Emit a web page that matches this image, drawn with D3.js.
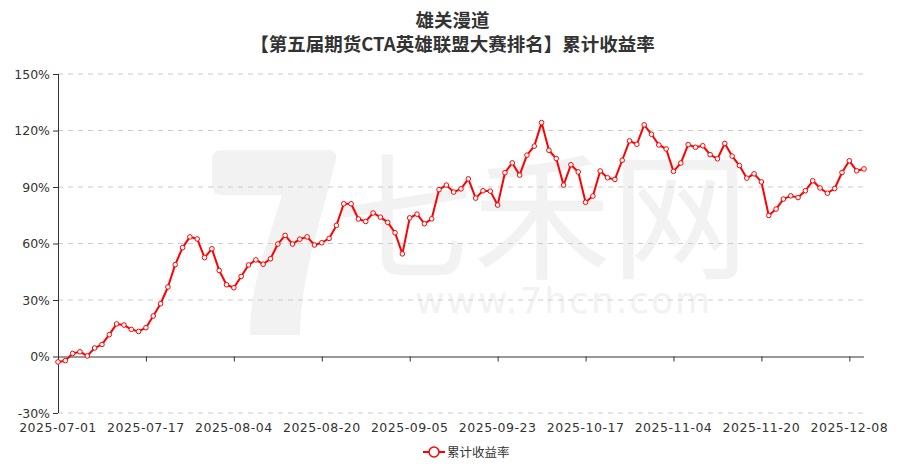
<!DOCTYPE html>
<html><head><meta charset="utf-8">
<script src="https://cdn.jsdelivr.net/npm/d3@7"></script>
<style>html,body{margin:0;padding:0;background:#fff;}svg{display:block;}</style>
</head><body>
<svg id="chart" width="905" height="470"></svg>
<script>
const titleLines = ["雄关漫道", "【第五届期货CTA英雄联盟大赛排名】累计收益率"];
const seriesName = "累计收益率";
const dates = [
"2025-07-01","2025-07-02","2025-07-03","2025-07-04","2025-07-07","2025-07-08","2025-07-09","2025-07-10","2025-07-11","2025-07-14","2025-07-15","2025-07-16","2025-07-17","2025-07-18","2025-07-21","2025-07-22","2025-07-23","2025-07-24","2025-07-25","2025-07-28","2025-07-29","2025-07-30","2025-07-31",
"2025-08-01","2025-08-04","2025-08-05","2025-08-06","2025-08-07","2025-08-08","2025-08-11","2025-08-12","2025-08-13","2025-08-14","2025-08-15","2025-08-18","2025-08-19","2025-08-20","2025-08-21","2025-08-22","2025-08-25","2025-08-26","2025-08-27","2025-08-28","2025-08-29",
"2025-09-01","2025-09-02","2025-09-03","2025-09-04","2025-09-05","2025-09-08","2025-09-09","2025-09-10","2025-09-11","2025-09-12","2025-09-15","2025-09-16","2025-09-17","2025-09-18","2025-09-19","2025-09-22","2025-09-23","2025-09-24","2025-09-25","2025-09-26","2025-09-29","2025-09-30",
"2025-10-09","2025-10-10","2025-10-13","2025-10-14","2025-10-15","2025-10-16","2025-10-17","2025-10-20","2025-10-21","2025-10-22","2025-10-23","2025-10-24","2025-10-27","2025-10-28","2025-10-29","2025-10-30","2025-10-31",
"2025-11-03","2025-11-04","2025-11-05","2025-11-06","2025-11-07","2025-11-10","2025-11-11","2025-11-12","2025-11-13","2025-11-14","2025-11-17","2025-11-18","2025-11-19","2025-11-20","2025-11-21","2025-11-24","2025-11-25","2025-11-26","2025-11-27","2025-11-28",
"2025-12-01","2025-12-02","2025-12-03","2025-12-04","2025-12-05","2025-12-08","2025-12-09","2025-12-10"
];
const values = [
-2.9,-2.2,1.6,2.5,0.3,4.5,6.4,11.6,17.3,16.7,14.4,13.3,15.3,21.5,28.0,36.9,48.8,57.8,63.5,62.4,52.5,57.2,45.7,
38.1,36.5,42.5,48.6,51.3,49.0,51.9,59.7,64.3,59.7,62.3,63.5,59.2,60.4,62.7,69.6,81.1,81.1,73.0,71.7,76.2,
74.0,71.2,65.7,54.5,73.6,75.6,70.5,73.1,88.6,91.0,87.3,89.0,94.3,84.1,88.0,87.8,80.4,97.6,102.8,96.3,106.9,111.7,
124.2,109.5,105.1,91.0,101.8,98.0,81.9,85.2,98.5,94.9,94.0,104.2,114.5,112.7,123.0,118.0,112.3,
110.2,98.3,102.7,112.5,111.1,111.9,107.2,105.0,113.1,106.4,101.4,94.7,97.0,92.7,74.9,78.3,83.6,85.3,84.4,88.0,
93.3,89.5,86.7,89.2,97.7,103.9,98.6,99.6
];
const yTicks = [-30, 0, 30, 60, 90, 120, 150];
const labelInterval = 12;

const svg = d3.select("#chart");
const W = 905, H = 470;
const m = {left: 58, right: 41, top: 74, bottom: 57};
const x = d3.scalePoint().domain(dates).range([m.left, W - m.right]);
const y = d3.scaleLinear().domain([-30, 150]).range([H - m.bottom, m.top]);
const font = "'Microsoft YaHei','Noto Sans CJK SC','Noto Sans',sans-serif";
const numFont = "'DejaVu Sans',sans-serif";

// watermark
const wm = svg.append("g").attr("fill", "#f2f2f2");
wm.append("path").attr("d", "M212,160 Q212,150 222,150 L328,150 Q338,150 336,160 L312,250 Q300,300 300,335 L250,335 Q250,290 268,240 L282,195 L222,195 Q212,195 212,185 Z");
wm.append("text").attr("x", 335).attr("y", 268).attr("font-size", 138).attr("font-family", font).text("七禾网");
wm.append("text").attr("x", 415).attr("y", 313).attr("font-size", 36).attr("letter-spacing", 2).attr("font-family", numFont).text("www.7hcn.com");

// grid
svg.append("g").selectAll("line").data(yTicks.filter(d => d !== 0)).join("line")
  .attr("x1", m.left).attr("x2", W - m.right)
  .attr("y1", d => y(d)).attr("y2", d => y(d))
  .attr("stroke", "#ccc").attr("stroke-dasharray", "5,5").attr("stroke-width", 1);

// y axis
const yAxis = svg.append("g").attr("transform", `translate(${m.left},0)`)
  .call(d3.axisLeft(y).tickValues(yTicks).tickFormat(d => d + "%").tickSize(5).tickPadding(3));
yAxis.select(".domain").attr("stroke", "#333").attr("d", `M0.5,${y(-30)}V${y(150)}`);
yAxis.selectAll(".tick line").attr("stroke", "#333");
yAxis.selectAll("text").attr("font-size", 12.5).attr("font-family", numFont).attr("fill", "#333");

// x axis line at zero
const xTicks = dates.filter((d, i) => i % labelInterval === 0);
const xAxis = svg.append("g").attr("transform", `translate(0,${y(0)})`)
  .call(d3.axisBottom(x).tickValues(xTicks).tickSize(5).tickFormat(""));
xAxis.select(".domain").attr("stroke", "#333").attr("d", `M${m.left},0.5H${W - m.right}`);
xAxis.selectAll(".tick line").attr("stroke", "#333");
// x labels at bottom
svg.append("g").selectAll("text").data(xTicks).join("text")
  .attr("x", d => x(d)).attr("y", y(-30) + 18.5)
  .attr("text-anchor", "middle").attr("font-size", 12.5).attr("letter-spacing", 0.5)
  .attr("font-family", numFont).attr("fill", "#333")
  .text(d => d);

// line
const line = d3.line().x((d, i) => x(dates[i])).y(d => y(d));
svg.append("path").datum(values).attr("d", line)
  .attr("fill", "none").attr("stroke", "#ff0000").attr("stroke-width", 2).attr("stroke-linejoin", "round");
svg.append("g").selectAll("circle").data(values).join("circle")
  .attr("cx", (d, i) => x(dates[i])).attr("cy", d => y(d)).attr("r", 2.3)
  .attr("fill", "#fff").attr("stroke", "#ff0000").attr("stroke-width", 1);

// title
svg.append("g").selectAll("text").data(titleLines).join("text")
  .attr("x", W / 2).attr("y", (d, i) => 27 + i * 24)
  .attr("text-anchor", "middle").attr("font-size", 18.5).attr("font-weight", "bold")
  .attr("font-family", font).attr("fill", "#333").text(d => d);

// legend
const lg = svg.append("g").attr("transform", "translate(434,452)");
lg.append("line").attr("x1", -11).attr("x2", 11).attr("y1", 0).attr("y2", 0).attr("stroke", "#ff0000").attr("stroke-width", 2);
lg.append("circle").attr("r", 5).attr("fill", "#fff").attr("stroke", "#ff0000").attr("stroke-width", 1.5);
lg.append("text").attr("x", 13).attr("y", 4.5).attr("font-size", 12.5).attr("font-family", font).attr("fill", "#333").text(seriesName);
</script>
</body></html>
